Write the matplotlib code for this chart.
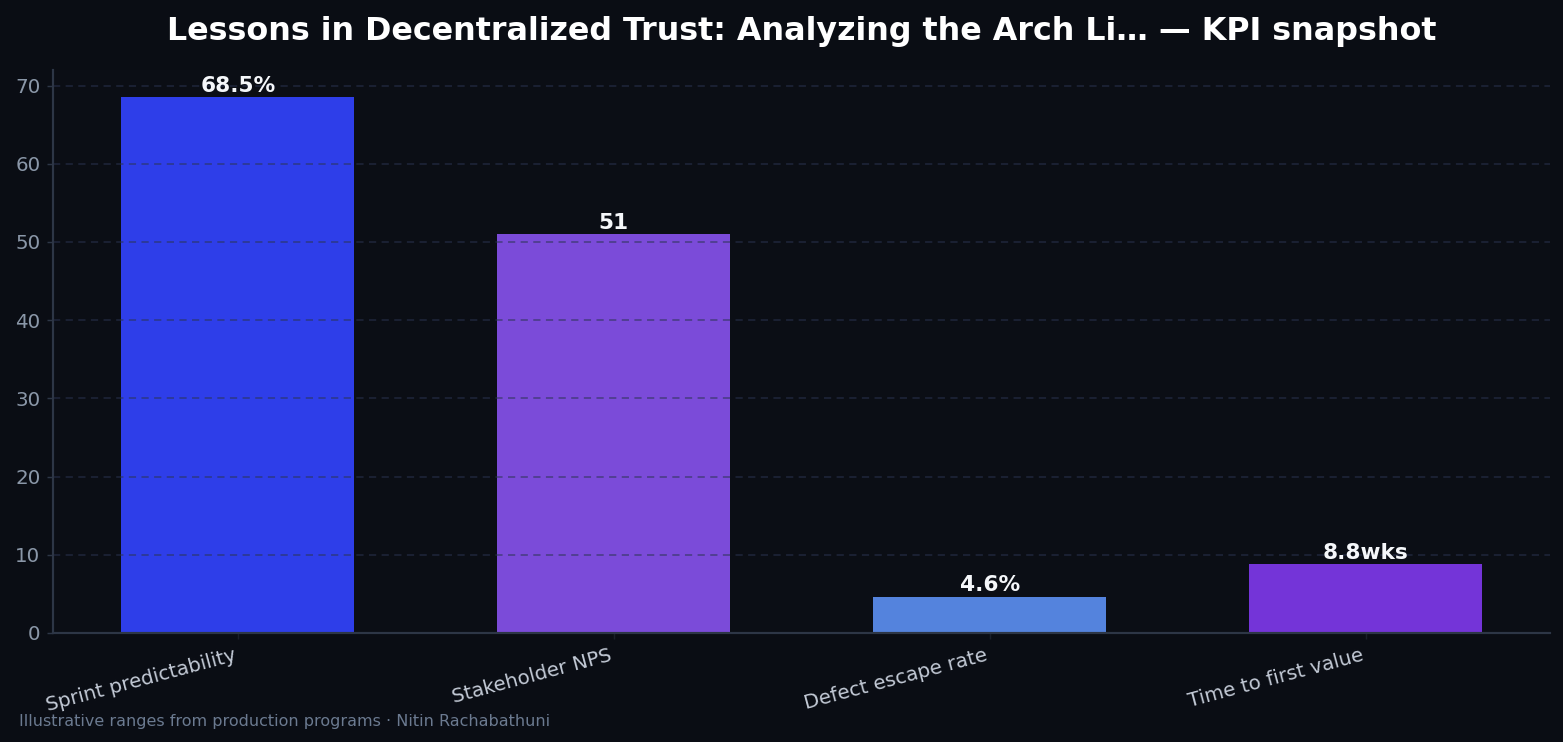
import matplotlib
matplotlib.use("Agg")
import matplotlib.pyplot as plt

# KPI data
categories = ["Sprint predictability", "Stakeholder NPS", "Defect escape rate", "Time to first value"]
values = [68.5, 51, 4.6, 8.8]
value_labels = ["68.5%", "51", "4.6%", "8.8wks"]
bar_colors = ["#2e3ee9", "#7b4bd9", "#5483dd", "#7434d8"]

fig_bg = "#0a0d14"
ax_bg = "#0b0e15"

fig, ax = plt.subplots(figsize=(1563 / 130, 742 / 130), dpi=130)
fig.patch.set_facecolor(fig_bg)
ax.set_facecolor(ax_bg)

x = list(range(len(categories)))
bars = ax.bar(x, values, width=0.62, color=bar_colors, zorder=1)

for b, lab in zip(bars, value_labels):
    ax.text(b.get_x() + b.get_width() / 2, b.get_height() + 0.2, lab,
            ha="center", va="bottom", color="#f5f7fa", fontsize=12, fontweight="bold", zorder=3)

ax.set_ylim(0, max(values) * 1.05)
ax.set_xticks(x)
ax.set_xticklabels(categories, rotation=15, ha="right", fontsize=11)
ax.tick_params(axis="y", colors="#2d3646", labelcolor="#8a97a8", labelsize=11)
ax.tick_params(axis="x", colors="#1a1f2a", labelcolor="#c3cad6")

# grid sits above the bars (drawn semi-transparent)
ax.yaxis.grid(True, linestyle=(0, (4, 3)), color="#2a3450", linewidth=1.0, alpha=0.55, zorder=1.5)
for side in ["top", "right"]:
    ax.spines[side].set_visible(False)
for side in ["left", "bottom"]:
    ax.spines[side].set_color("#2d3646")
    ax.spines[side].set_linewidth(1.2)

ax.set_title("Lessons in Decentralized Trust: Analyzing the Arch Li\u2026 \u2014 KPI snapshot",
             color="#ffffff", fontsize=17.6, fontweight="bold", pad=17)

fig.text(0.012, 0.022, "Illustrative ranges from production programs \u00b7 Nitin Rachabathuni",
         color="#6b7a90", fontsize=8.9)

plt.subplots_adjust(left=0.034, right=0.992, top=0.905, bottom=0.147)
plt.savefig("out.png", facecolor=fig_bg)
